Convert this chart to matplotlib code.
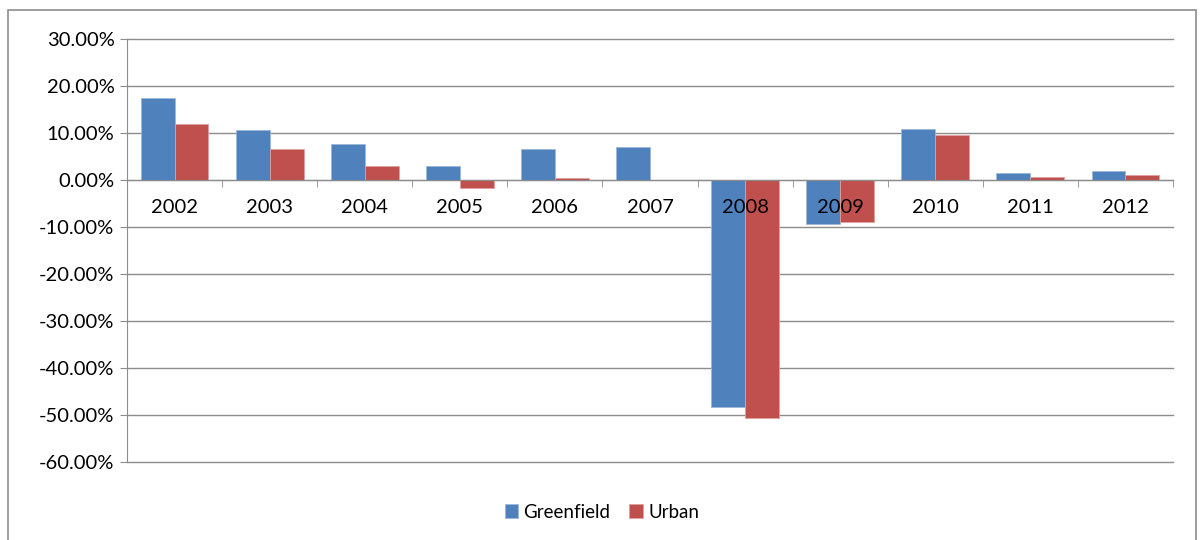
import numpy as np
import matplotlib
matplotlib.use('Agg')
import matplotlib.pyplot as plt
from matplotlib.patches import Rectangle
from matplotlib.ticker import FuncFormatter

years = ['2002', '2003', '2004', '2005', '2006', '2007',
         '2008', '2009', '2010', '2011', '2012']
greenfield = [17.4, 10.6, 7.6, 3.05, 6.6, 7.1, -48.2, -9.45, 10.9, 1.4, 2.0]
urban = [12.0, 6.6, 3.05, -1.76, 0.5, 0.0, -50.7, -8.9, 9.5, 0.57, 1.1]
y_ticks = [30, 20, 10, 0, -10, -20, -30, -40, -50, -60]

blue = '#4F81BD'
red = '#C0504D'
grey = '#8C8C8C'

plt.rcParams['font.family'] = ['Lato', 'DejaVu Sans']

fig = plt.figure(figsize=(12.04, 5.4), dpi=100)
ax = fig.add_axes([127 / 1204, 1 - 462 / 540, (1173 - 127) / 1204, (462 - 39) / 540])

x = np.arange(len(years))
w = 0.357
ax.bar(x - w / 2, greenfield, w, color=blue, edgecolor='#9DB7DA', linewidth=0.6,
       label='Greenfield', zorder=3)
ax.bar(x + w / 2, urban, w, color=red, edgecolor='#E0A09E', linewidth=0.6,
       label='Urban', zorder=3)

ax.set_xlim(-0.5, len(years) - 0.5)
ax.set_ylim(-60, 30)
ax.set_yticks(y_ticks)
ax.yaxis.set_major_formatter(FuncFormatter(lambda v, p: f'{v:.2f}%'))
ax.grid(axis='y', color=grey, linewidth=1.0, zorder=0)
for gl in ax.get_ygridlines():
    gl.set_clip_on(False)

ax.spines['top'].set_visible(False)
ax.spines['right'].set_visible(False)
ax.spines['left'].set_color(grey)
ax.spines['bottom'].set_color(grey)
ax.spines['bottom'].set_position(('data', 0))
ax.spines['bottom'].set_zorder(4)

ax.set_xticks(x)
ax.set_xticklabels(years)
ax.set_xticks(np.arange(len(years) + 1) - 0.5, minor=True)
ax.tick_params(axis='x', which='major', length=0, pad=14, labelsize=14.5)
ax.tick_params(axis='x', which='minor', length=5, color=grey, direction='out')
ax.tick_params(axis='y', length=5, color=grey, labelsize=14.5, pad=4)
# category labels sit on top of the bars, like the original
ax.xaxis.set_zorder(5)

fig.legend(loc='center', bbox_to_anchor=(0.5, 1 - 512 / 540), ncol=2, frameon=False,
           handlelength=0.7, handleheight=0.7, handletextpad=0.3, columnspacing=1.0,
           fontsize=13.5)

fig.patches.append(Rectangle((8 / 1204, -0.02), 1188 / 1204, 1 - 10 / 540 + 0.02,
                             transform=fig.transFigure, fill=False, edgecolor=grey,
                             linewidth=1.2))

fig.savefig('out.png', dpi=100)
